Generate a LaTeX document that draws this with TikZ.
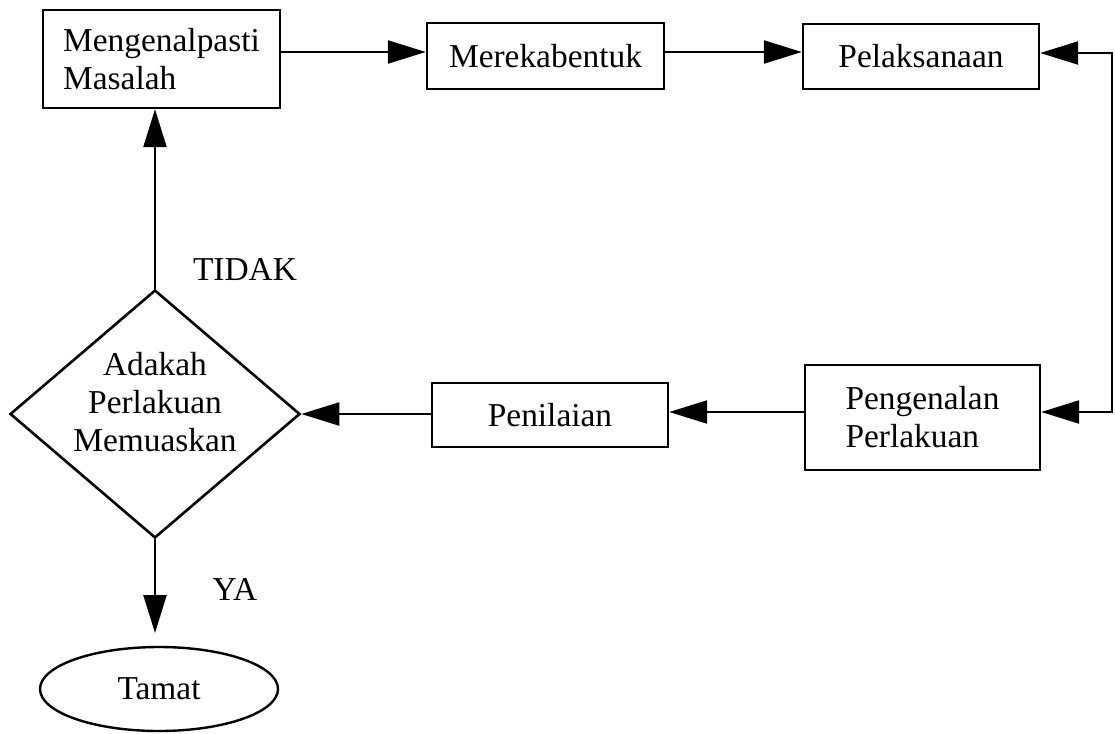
\documentclass[tikz,border=0pt]{standalone}
\usepackage{fontspec}
\setmainfont{Liberation Serif}
\usetikzlibrary{arrows.meta,shapes.geometric}
\tikzset{
  lbl/.style={font=\fontsize{33.4pt}{38pt}\selectfont, inner sep=0pt},
  boxnode/.style={draw, line width=2.4pt, inner sep=0pt, font=\fontsize{33.4pt}{38pt}\selectfont},
  conn/.style={line width=2.4pt, -{Triangle[length=38pt,width=23pt]}},
  bconn/.style={line width=2.4pt, {Triangle[length=38pt,width=23pt]}-{Triangle[length=38pt,width=23pt]}},
}
\begin{document}
\begin{tikzpicture}[x=1pt,y=-1pt]
\useasboundingbox (0,0) rectangle (1115,733);
\node[boxnode, minimum width=237pt, minimum height=98pt, align=left] (b1) at (161.5,59) {Mengenalpasti\\Masalah};
\node[boxnode, minimum width=237pt, minimum height=66pt] (b2) at (545.5,56) {Merekabentuk};
\node[boxnode, minimum width=236pt, minimum height=65pt] (b3) at (921,56.5) {Pelaksanaan};
\node[boxnode, minimum width=235pt, minimum height=105pt, align=left] (b4) at (922.5,417.5) {Pengenalan\\Perlakuan};
\node[boxnode, minimum width=236pt, minimum height=64pt] (b5) at (550,415) {Penilaian};
\node[draw, diamond, line width=2.6pt, inner sep=0pt, minimum width=290pt, minimum height=248pt] (d) at (155,414) {};
\node[lbl, align=center] (dt) at (155,402) {Adakah\\Perlakuan\\Memuaskan};
\node[draw, ellipse, line width=2.4pt, inner sep=0pt, minimum width=238pt, minimum height=84pt, font=\fontsize{33.4pt}{38pt}\selectfont] (e) at (159,689) {Tamat};
\node[lbl] (tidak) at (245,270) {TIDAK};
\node[lbl] (ya) at (235,589) {YA};
\coordinate (y1) at (0,52);
\coordinate (rt) at (1112,53);
\coordinate (rb) at (1112,412);
\coordinate (endtip) at (155,633);
\draw[conn] (b1.east |- y1) -- (b2.west |- y1);
\draw[conn] (b2.east |- y1) -- (b3.west |- y1);
\draw[bconn] (b3.east |- rt) -- (rt) -- (rb) -- (b4.east |- rb);
\draw[conn] (b4.west |- rb) -- (b5.east |- rb);
\draw[conn] (b5.west |- d.east) -- (d.east);
\draw[conn] (d.north) -- (d.north |- b1.south);
\draw[conn] (d.south) -- (endtip);
\end{tikzpicture}
\end{document}
